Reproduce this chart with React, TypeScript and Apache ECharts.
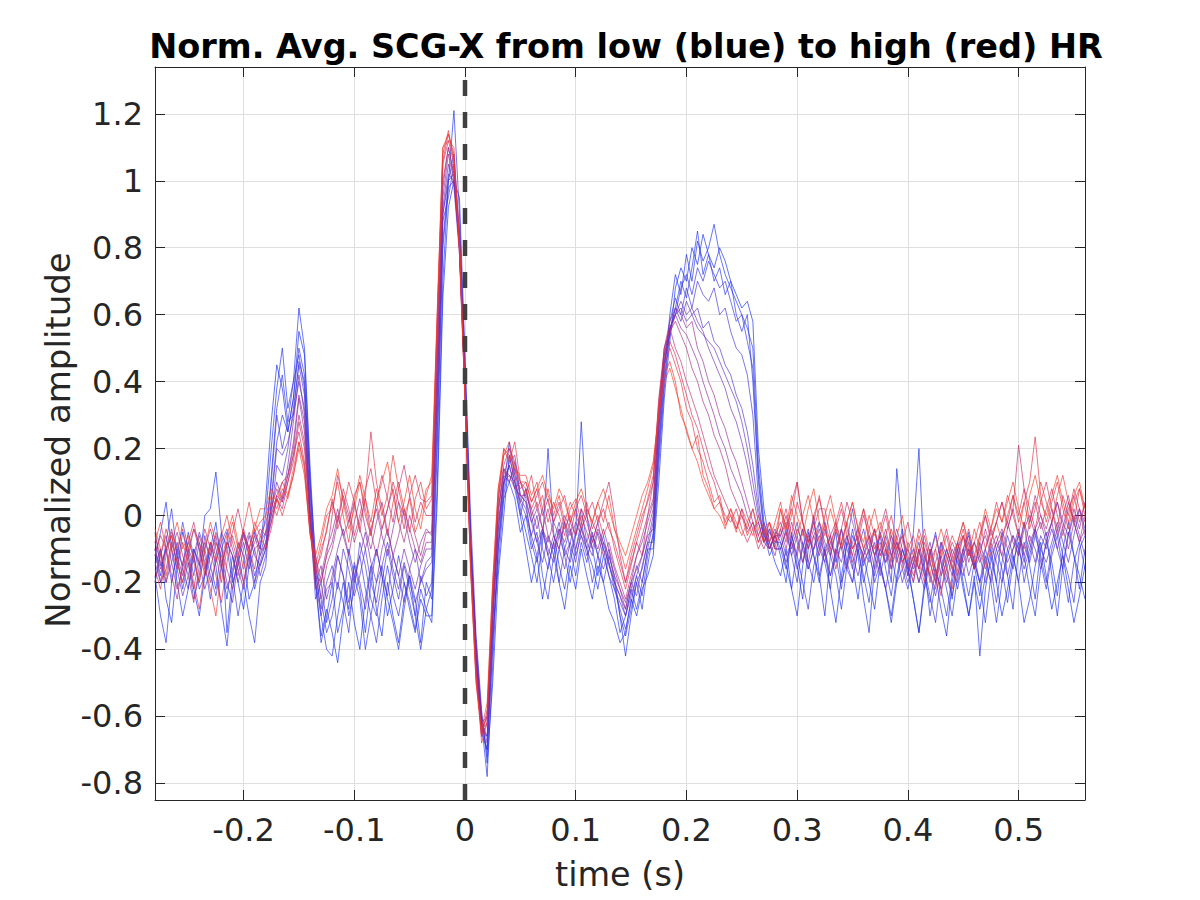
import React, { useEffect, useRef } from "react";
import * as echarts from "echarts";

const TITLE = "Norm. Avg. SCG-X from low (blue) to high (red) HR";
const X_LABEL = "time (s)";
const Y_LABEL = "Normalized amplitude";
const X_MIN = -0.28;
const X_MAX = 0.56;
const Y_MIN = -0.85;
const Y_MAX = 1.34;
const ZERO_TIME = 0;

// sample grid of every trace (seconds)
const T_START = -0.28;
const T_STEP = 0.005;

// traces ordered from low HR (blue) to high HR (red)
const traceColors = [
  "#1028f5", "#1a2cf0", "#2430ea", "#2e30e2", "#3c30d8", "#4c2ecc", "#5e2cbe", "#702aae",
  "#84289e", "#98288e", "#ac287c", "#c0286a", "#d22a56", "#e02e44", "#ea3432", "#f23c22",
];

const traceB0 = [
  -0.2, -0.1, -0.25, -0.32, -0.15, -0.05, -0.12, -0.22, -0.3, -0.18, -0.1, -0.02, -0.15, -0.25, -0.12, -0.2, -0.28, -0.15, -0.05, -0.1,
  0.05, 0.28, 0.45, 0.38, 0.25, 0.35, 0.55, 0.48, 0.12, -0.2, -0.36, -0.28,
  -0.35, -0.44, -0.3, -0.2, -0.32, -0.4, -0.25, -0.15, -0.28, -0.36, -0.2, -0.3, -0.38, -0.25, -0.18, -0.3, -0.4, -0.28,
  -0.32, 0.05, 0.65, 0.92, 1.0, 0.95, 0.48, 0.0, -0.36, -0.58, -0.74, -0.5, -0.18, 0.0, 0.18, 0.1, 0.0,
  -0.1, -0.2, -0.12, -0.25, -0.15, -0.08, -0.2, -0.28, -0.15, -0.22, -0.1, -0.18, -0.25, -0.15, -0.2, -0.28, -0.32, -0.38, -0.35, -0.25, -0.3, -0.22, -0.18,
  -0.12, 0.1, 0.35, 0.52, 0.68, 0.74, 0.7, 0.8, 0.75, 0.84, 0.78, 0.74, 0.8, 0.76, 0.7, 0.66, 0.62, 0.64, 0.58, 0.2, 0.02, -0.08, -0.14,
  -0.18, -0.1, -0.22, -0.3, -0.15, -0.05, -0.12, -0.2,
  -0.1, -0.22, -0.32, -0.18, -0.08, -0.15, -0.25, -0.12,
  -0.2, -0.28, -0.14, -0.22, -0.32, -0.2, -0.1, -0.15,
  -0.25, -0.35, -0.22, -0.1, -0.18, -0.28, -0.36, -0.2,
  -0.12, -0.22, -0.3, -0.2, -0.28, -0.18, -0.1, -0.2,
  -0.3, -0.22, -0.12, -0.2, -0.32, -0.25, -0.15, -0.08,
  -0.18, -0.28, -0.2, -0.12, -0.22, -0.32, -0.24, -0.15,
];

const traceB1 = [
  -0.12, -0.05, 0.04, -0.1, -0.2, -0.3, -0.22, -0.1, -0.15, 0.0, 0.02, 0.13, -0.05, -0.35, -0.18, -0.08, -0.12, -0.25, -0.2, -0.1,
  0.0, 0.2, 0.38, 0.5, 0.32, 0.4, 0.62, 0.5, 0.15, -0.15, -0.3, -0.4,
  -0.42, -0.3, -0.2, -0.28, -0.15, -0.22, -0.35, -0.2, -0.1, -0.18, -0.3, -0.22, -0.12, -0.2, -0.28, -0.35, -0.25, -0.3,
  -0.3, 0.1, 0.7, 1.0, 1.21, 0.9, 0.45, -0.05, -0.4, -0.62, -0.78, -0.45, -0.1, 0.08, 0.22, 0.12, 0.02,
  -0.05, -0.12, -0.2, -0.08, 0.2, -0.05, -0.15, -0.22, -0.12, -0.05, 0.28, 0.0, -0.1, -0.18, -0.08, -0.15, -0.2, -0.3, -0.42, -0.3, -0.2, -0.28, -0.15,
  -0.05, 0.2, 0.42, 0.6, 0.72, 0.66, 0.78, 0.7, 0.82, 0.76, 0.8, 0.87, 0.78, 0.72, 0.68, 0.64, 0.6, 0.56, 0.5, 0.15, -0.02, -0.1, -0.06,
  -0.12, -0.2, -0.05, -0.15, -0.25, -0.1, 0.0, -0.18,
  -0.3, -0.12, -0.05, -0.2, -0.14, -0.04, -0.12, -0.25,
  -0.35, -0.15, -0.05, -0.1, -0.2, 0.14, -0.05, -0.18,
  -0.05, 0.2, -0.15, -0.3, -0.2, -0.08, -0.15, -0.25,
  -0.1, -0.2, -0.3, -0.18, -0.42, -0.22, -0.12, -0.2,
  -0.05, -0.18, -0.28, -0.1, -0.02, -0.15, -0.25, -0.1,
  -0.05, -0.18, -0.3, -0.15, -0.05, -0.12, -0.22, -0.1,
];

const traceB2 = [
  -0.18, -0.3, -0.38, -0.2, -0.1, -0.15, -0.05, -0.12, -0.22, -0.18, -0.08, -0.15, -0.28, -0.39, -0.22, -0.12, -0.2, -0.3, -0.38, -0.2,
  -0.15, 0.05, 0.22, 0.3, 0.25, 0.35, 0.5, 0.42, 0.08, -0.2, -0.38, -0.3,
  -0.2, -0.35, -0.28, -0.1, -0.18, -0.25, -0.4, -0.3, -0.2, -0.15, -0.25, -0.32, -0.4, -0.28, -0.18, -0.25, -0.38, -0.2,
  -0.25, 0.2, 0.8, 0.98, 1.0, 0.85, 0.4, -0.1, -0.45, -0.65, -0.7, -0.35, -0.15, 0.05, 0.1, 0.05, -0.05,
  0.0, -0.1, -0.05, -0.18, -0.25, -0.12, -0.04, -0.12, -0.2, -0.1, -0.02, -0.1, -0.15, -0.22, -0.12, -0.18, -0.25, -0.35, -0.3, -0.22, -0.28, -0.2, -0.1,
  -0.1, 0.15, 0.38, 0.55, 0.62, 0.7, 0.65, 0.74, 0.85, 0.72, 0.78, 0.7, 0.74, 0.66, 0.7, 0.6, 0.55, 0.6, 0.4, 0.1, -0.05, -0.12, -0.08,
  -0.08, -0.15, -0.22, -0.1, -0.04, -0.14, -0.2, -0.1,
  -0.02, -0.12, -0.18, -0.28, -0.15, -0.06, -0.1, -0.2,
  -0.12, -0.04, -0.15, -0.22, -0.3, -0.18, -0.1, -0.16,
  -0.25, -0.35, -0.2, -0.12, -0.05, -0.14, -0.22, -0.3,
  -0.18, -0.1, -0.06, -0.15, -0.24, -0.12, -0.2, -0.32,
  -0.2, -0.1, -0.16, -0.05, -0.12, -0.22, -0.3, -0.16,
  -0.08, -0.14, -0.24, -0.1, -0.02, -0.12, -0.18, -0.25,
];

const traceB4 = [
  -0.1, -0.18, -0.08, 0.02, -0.12, -0.22, -0.14, -0.25, -0.18, -0.06, -0.15, -0.22, -0.1, -0.05, -0.18, -0.3, -0.2, -0.12, -0.22, -0.15,
  -0.1, 0.12, 0.32, 0.42, 0.28, 0.3, 0.46, 0.4, 0.1, -0.12, -0.25, -0.35,
  -0.3, -0.2, -0.26, -0.35, -0.18, -0.12, -0.22, -0.3, -0.38, -0.25, -0.15, -0.24, -0.3, -0.2, -0.26, -0.34, -0.22, -0.28,
  -0.22, 0.25, 0.82, 1.0, 1.08, 0.84, 0.42, -0.06, -0.4, -0.62, -0.7, -0.38, -0.1, 0.06, 0.16, 0.18, 0.06,
  0.04, -0.08, -0.14, -0.05, -0.12, -0.2, -0.1, -0.02, -0.1, -0.18, -0.08, -0.14, -0.05, -0.12, -0.2, -0.12, -0.18, -0.3, -0.36, -0.28, -0.2, -0.16, -0.08,
  -0.08, 0.18, 0.4, 0.56, 0.6, 0.68, 0.72, 0.66, 0.74, 0.7, 0.76, 0.72, 0.68, 0.7, 0.64, 0.58, 0.6, 0.52, 0.44, 0.12, -0.04, -0.1, -0.06,
  -0.1, -0.16, -0.06, -0.12, -0.2, -0.28, -0.15, -0.08,
  -0.14, -0.22, -0.1, -0.04, -0.14, -0.2, -0.1, -0.18,
  -0.26, -0.12, -0.06, -0.16, -0.24, -0.12, -0.04, -0.14,
  -0.2, -0.1, -0.18, -0.26, -0.16, -0.22, -0.3, -0.18,
  -0.08, -0.16, -0.24, -0.14, -0.2, -0.32, -0.18, -0.1,
  -0.16, -0.26, -0.14, -0.08, -0.2, -0.12, -0.04, -0.14,
  -0.22, -0.12, -0.06, -0.16, -0.26, -0.14, -0.08, -0.16,
];

const traceB3 = [
  -0.05, -0.15, -0.1, -0.2, -0.12, -0.02, -0.1, -0.18, -0.08, -0.14, -0.25, -0.12, -0.05, -0.1, -0.2, -0.15, -0.05, -0.1, -0.18, -0.12,
  -0.05, 0.1, 0.3, 0.2, 0.28, 0.4, 0.48, 0.38, 0.0, -0.25, -0.2, -0.32,
  -0.25, -0.12, -0.18, -0.3, -0.22, -0.08, -0.15, -0.25, -0.3, -0.2, -0.1, -0.18, -0.25, -0.15, -0.22, -0.3, -0.18, -0.24,
  -0.2, 0.3, 0.88, 0.95, 1.05, 0.8, 0.42, -0.08, -0.38, -0.6, -0.72, -0.4, -0.08, 0.1, 0.15, 0.08, 0.0,
  0.08, 0.0, -0.08, -0.14, -0.06, -0.12, -0.2, -0.1, -0.04, -0.12, -0.06, -0.1, -0.2, -0.12, -0.06, -0.14, -0.22, -0.28, -0.34, -0.26, -0.18, -0.24, -0.12,
  -0.06, 0.22, 0.45, 0.58, 0.65, 0.6, 0.68, 0.62, 0.7, 0.66, 0.64, 0.68, 0.6, 0.62, 0.55, 0.5, 0.48, 0.42, 0.3, 0.05, -0.08, -0.04, -0.1,
  -0.1, -0.04, -0.12, -0.2, -0.08, -0.16, -0.1, -0.02,
  -0.1, -0.18, -0.12, -0.22, -0.08, 0.02, -0.08, -0.15,
  -0.1, -0.2, -0.14, -0.06, -0.12, -0.2, -0.16, -0.22,
  -0.14, -0.08, -0.16, -0.24, -0.32, -0.18, -0.1, -0.15,
  -0.22, -0.12, -0.05, -0.14, -0.2, -0.1, -0.16, -0.26,
  -0.14, -0.06, -0.12, -0.2, -0.08, -0.14, -0.06, -0.12,
  -0.2, -0.1, -0.04, -0.12, -0.18, -0.26, -0.1, -0.06,
];

const traceBP1 = [
  -0.15, -0.1, -0.2, -0.14, -0.08, -0.16, -0.22, -0.12, -0.05, -0.1, -0.18, -0.24, -0.15, -0.08, -0.12, -0.2, -0.14, -0.06, -0.12, -0.15,
  -0.1, 0.0, 0.15, 0.12, 0.2, 0.32, 0.45, 0.36, 0.05, -0.18, -0.28, -0.2,
  -0.15, -0.22, -0.1, -0.16, -0.24, -0.18, -0.1, -0.2, -0.26, -0.15, -0.08, -0.16, -0.22, -0.14, -0.2, -0.26, -0.2, -0.14,
  -0.12, 0.35, 0.9, 1.0, 1.02, 0.82, 0.38, -0.1, -0.42, -0.64, -0.66, -0.3, -0.05, 0.12, 0.1, 0.14, 0.05,
  0.02, -0.06, 0.0, -0.1, -0.16, -0.08, -0.02, -0.1, -0.14, -0.06, 0.02, -0.08, -0.12, -0.05, -0.1, -0.18, -0.22, -0.26, -0.3, -0.22, -0.15, -0.2, -0.1,
  -0.02, 0.25, 0.45, 0.55, 0.62, 0.58, 0.64, 0.6, 0.62, 0.56, 0.58, 0.52, 0.5, 0.45, 0.42, 0.36, 0.32, 0.25, 0.15, 0.02, -0.06, -0.1, -0.05,
  -0.06, -0.12, -0.08, -0.16, -0.1, -0.04, -0.12, -0.18,
  -0.1, -0.06, -0.14, -0.08, -0.16, -0.2, -0.1, -0.04,
  -0.12, -0.18, -0.1, -0.14, -0.06, -0.12, -0.2, -0.14,
  -0.1, -0.16, -0.22, -0.14, -0.2, -0.12, -0.18, -0.24,
  -0.16, -0.1, -0.18, -0.12, -0.2, -0.14, -0.08, -0.14,
  -0.2, -0.12, -0.06, -0.1, -0.16, -0.1, -0.04, -0.1,
  -0.14, -0.08, -0.02, -0.08, -0.14, -0.06, 0.02, -0.04,
];

const traceBP3 = [
  -0.14, -0.2, -0.1, -0.06, -0.16, -0.24, -0.18, -0.1, -0.14, -0.22, -0.16, -0.08, -0.12, -0.2, -0.26, -0.14, -0.08, -0.16, -0.1, -0.18,
  -0.12, 0.04, 0.2, 0.18, 0.22, 0.3, 0.4, 0.32, 0.02, -0.2, -0.3, -0.22,
  -0.2, -0.12, -0.18, -0.26, -0.14, -0.2, -0.28, -0.16, -0.1, -0.18, -0.24, -0.12, -0.18, -0.26, -0.16, -0.1, -0.2, -0.16,
  -0.14, 0.38, 0.9, 1.02, 1.0, 0.8, 0.38, -0.1, -0.42, -0.62, -0.66, -0.32, -0.04, 0.1, 0.12, 0.1, 0.04,
  0.0, -0.06, -0.12, -0.04, -0.1, -0.14, -0.06, -0.12, -0.08, -0.14, -0.04, -0.1, -0.06, -0.12, -0.16, -0.1, -0.2, -0.24, -0.3, -0.24, -0.18, -0.12, -0.06,
  -0.04, 0.26, 0.46, 0.54, 0.6, 0.62, 0.58, 0.6, 0.56, 0.54, 0.52, 0.5, 0.46, 0.42, 0.38, 0.34, 0.28, 0.2, 0.1, 0.0, -0.06, -0.08, -0.04,
  -0.08, -0.14, -0.08, -0.02, -0.1, -0.16, -0.1, -0.06,
  -0.12, -0.18, -0.1, -0.14, -0.06, -0.12, -0.18, -0.1,
  -0.14, -0.08, -0.16, -0.22, -0.12, -0.08, -0.14, -0.2,
  -0.14, -0.2, -0.12, -0.18, -0.24, -0.16, -0.1, -0.16,
  -0.2, -0.12, -0.08, -0.16, -0.12, -0.2, -0.14, -0.08,
  -0.12, -0.18, -0.1, -0.06, -0.14, -0.08, -0.14, -0.06,
  -0.1, -0.04, -0.1, -0.16, -0.06, 0.0, -0.06, -0.12,
];

const traceBP2 = [
  -0.1, -0.2, -0.16, -0.08, -0.14, -0.2, -0.12, -0.04, -0.1, -0.18, -0.12, -0.06, -0.15, -0.22, -0.16, -0.1, -0.05, -0.12, -0.2, -0.14,
  -0.08, 0.02, 0.1, 0.05, 0.15, 0.28, 0.42, 0.3, 0.0, -0.2, -0.15, -0.25,
  -0.18, -0.1, -0.04, -0.12, -0.2, -0.12, -0.05, -0.14, -0.2, -0.1, -0.04, -0.12, -0.18, -0.1, -0.16, -0.22, -0.15, -0.1,
  -0.1, 0.4, 0.92, 1.05, 0.98, 0.78, 0.36, -0.12, -0.44, -0.6, -0.68, -0.32, -0.02, 0.1, 0.15, 0.08, 0.1,
  0.05, -0.02, -0.08, -0.04, -0.12, -0.06, -0.1, -0.16, -0.08, -0.02, -0.06, -0.12, -0.08, -0.02, -0.1, -0.14, -0.2, -0.24, -0.28, -0.2, -0.24, -0.15, -0.08,
  0.0, 0.28, 0.48, 0.56, 0.6, 0.64, 0.6, 0.62, 0.58, 0.55, 0.5, 0.46, 0.42, 0.38, 0.32, 0.28, 0.22, 0.15, 0.06, -0.02, -0.08, -0.04, -0.1,
  -0.1, -0.05, -0.12, -0.06, -0.14, -0.08, -0.02, -0.1,
  -0.14, -0.08, -0.12, -0.04, -0.1, -0.16, -0.08, -0.12,
  -0.06, -0.12, -0.18, -0.1, -0.16, -0.08, -0.12, -0.18,
  -0.12, -0.2, -0.14, -0.08, -0.16, -0.22, -0.16, -0.1,
  -0.14, -0.18, -0.1, -0.16, -0.08, -0.14, -0.2, -0.12,
  -0.08, -0.14, -0.1, -0.04, -0.12, -0.06, -0.1, -0.16,
  -0.08, -0.02, -0.1, -0.04, 0.04, -0.02, -0.08, -0.04,
];

const traceP3 = [
  -0.1, -0.16, -0.1, -0.04, -0.12, -0.18, -0.1, -0.14, -0.06, -0.12, -0.2, -0.14, -0.08, -0.04, -0.1, -0.16, -0.22, -0.12, -0.06, -0.12,
  -0.08, -0.02, 0.06, 0.04, 0.12, 0.22, 0.36, 0.28, 0.0, -0.18, -0.2, -0.12,
  -0.08, 0.0, -0.06, -0.02, 0.04, -0.04, -0.1, -0.04, 0.02, -0.06, -0.12, -0.04, 0.04, 0.0, -0.08, -0.14, -0.08, -0.04,
  -0.06, 0.48, 0.98, 1.1, 1.02, 0.8, 0.38, -0.12, -0.44, -0.64, -0.62, -0.28, 0.02, 0.14, 0.12, 0.08, 0.06,
  0.04, -0.02, 0.02, -0.04, -0.08, -0.02, -0.06, 0.0, -0.04, -0.1, -0.04, 0.0, -0.06, -0.1, -0.04, -0.1, -0.16, -0.22, -0.26, -0.2, -0.12, -0.08, -0.02,
  0.04, 0.3, 0.48, 0.56, 0.6, 0.56, 0.54, 0.5, 0.46, 0.4, 0.35, 0.3, 0.24, 0.2, 0.14, 0.1, 0.06, 0.0, -0.04, -0.02, -0.08, -0.1, -0.06,
  -0.06, -0.02, -0.1, -0.04, -0.08, -0.14, -0.06, -0.02,
  -0.08, -0.12, -0.04, -0.1, -0.16, -0.08, -0.04, -0.1,
  -0.06, -0.12, -0.08, -0.14, -0.1, -0.04, -0.1, -0.16,
  -0.12, -0.16, -0.1, -0.2, -0.14, -0.08, -0.12, -0.18,
  -0.1, -0.06, -0.12, -0.08, -0.14, -0.1, -0.04, -0.1,
  -0.06, -0.02, -0.08, -0.12, -0.04, 0.0, -0.06, -0.02,
  -0.08, -0.02, 0.04, -0.02, -0.06, 0.02, -0.04, 0.04,
];

const traceP1 = [
  -0.2, -0.12, -0.06, -0.14, -0.22, -0.16, -0.08, -0.12, -0.2, -0.1, -0.04, -0.1, -0.16, -0.08, -0.12, -0.18, -0.1, -0.05, -0.1, -0.08,
  -0.05, 0.0, 0.06, 0.1, 0.12, 0.2, 0.35, 0.25, -0.02, -0.22, -0.18, -0.1,
  -0.05, 0.02, -0.06, -0.12, -0.02, 0.05, -0.04, -0.1, -0.02, 0.04, -0.05, -0.12, -0.06, 0.02, -0.04, -0.1, -0.14, -0.08,
  -0.08, 0.45, 0.95, 1.08, 1.0, 0.8, 0.4, -0.1, -0.4, -0.62, -0.6, -0.28, 0.0, 0.14, 0.1, 0.16, 0.06,
  0.06, 0.02, -0.04, 0.02, -0.06, -0.1, -0.04, -0.08, -0.02, -0.06, 0.0, -0.05, -0.1, -0.04, -0.08, -0.12, -0.18, -0.22, -0.28, -0.2, -0.16, -0.12, -0.05,
  0.02, 0.3, 0.5, 0.58, 0.62, 0.6, 0.56, 0.58, 0.5, 0.46, 0.4, 0.36, 0.3, 0.26, 0.2, 0.16, 0.1, 0.04, -0.02, -0.06, -0.02, -0.08, -0.12,
  -0.04, -0.1, -0.02, -0.08, -0.14, -0.06, -0.1, -0.04,
  -0.12, -0.06, -0.02, -0.1, -0.06, -0.14, -0.08, -0.12,
  -0.08, -0.16, -0.1, -0.04, -0.12, -0.06, -0.14, -0.1,
  -0.16, -0.1, -0.18, -0.12, -0.06, -0.14, -0.2, -0.12,
  -0.08, -0.14, -0.1, -0.16, -0.1, -0.06, -0.12, -0.08,
  -0.04, -0.1, -0.06, -0.12, -0.02, -0.08, -0.04, 0.0,
  -0.06, -0.02, 0.04, -0.04, -0.1, -0.02, 0.02, -0.06,
];

const traceP2 = [
  -0.08, -0.14, -0.2, -0.1, -0.05, -0.12, -0.18, -0.26, -0.15, -0.08, -0.12, -0.05, -0.1, -0.16, -0.22, -0.12, -0.06, -0.1, -0.04, -0.1,
  -0.1, -0.02, 0.05, 0.02, 0.1, 0.18, 0.3, 0.22, 0.0, -0.15, -0.25, -0.15,
  -0.1, -0.02, 0.06, 0.0, -0.08, -0.02, 0.05, -0.05, -0.12, -0.04, 0.02, 0.08, -0.02, -0.08, 0.0, -0.06, -0.12, -0.05,
  -0.05, 0.5, 1.0, 1.1, 1.02, 0.82, 0.38, -0.12, -0.45, -0.66, -0.62, -0.3, 0.02, 0.12, 0.18, 0.1, 0.04,
  0.08, 0.0, 0.04, -0.04, 0.02, -0.06, -0.1, -0.02, -0.06, 0.02, -0.04, -0.08, -0.02, -0.06, -0.12, -0.08, -0.15, -0.2, -0.25, -0.18, -0.12, -0.06, 0.0,
  0.05, 0.32, 0.5, 0.55, 0.58, 0.54, 0.5, 0.44, 0.4, 0.34, 0.3, 0.24, 0.2, 0.15, 0.08, 0.04, 0.0, -0.04, 0.02, -0.06, -0.1, -0.05, -0.08,
  -0.06, 0.0, -0.08, -0.12, -0.04, -0.1, -0.06, -0.12,
  -0.04, -0.1, -0.16, -0.08, -0.02, -0.1, -0.06, -0.14,
  -0.1, -0.04, -0.12, -0.08, -0.16, -0.1, -0.06, -0.12,
  -0.18, -0.12, -0.06, -0.14, -0.1, -0.18, -0.14, -0.08,
  -0.12, -0.06, -0.14, -0.08, -0.12, -0.04, -0.1, -0.06,
  -0.12, -0.04, 0.02, -0.06, -0.1, -0.02, 0.06, 0.0,
  -0.04, 0.02, -0.06, 0.0, 0.06, -0.02, -0.08, 0.0,
];

const traceR1 = [
  -0.12, -0.06, -0.1, -0.18, -0.25, -0.14, -0.08, -0.02, -0.1, -0.16, -0.08, -0.12, -0.2, -0.1, -0.05, 0.02, -0.06, -0.12, -0.08, -0.04,
  -0.06, 0.02, 0.08, 0.04, 0.1, 0.16, 0.28, 0.2, -0.02, -0.12, -0.2, -0.12,
  0.0, 0.12, 0.05, -0.02, 0.06, 0.1, 0.0, -0.06, 0.04, 0.12, 0.05, -0.02, 0.08, 0.15, 0.06, -0.02, 0.04, 0.0,
  0.0, 0.55, 1.05, 1.12, 1.05, 0.8, 0.36, -0.15, -0.48, -0.65, -0.6, -0.25, 0.05, 0.15, 0.2, 0.12, 0.08,
  0.1, 0.04, 0.08, 0.0, 0.05, -0.02, 0.04, -0.04, 0.0, -0.06, 0.02, -0.02, -0.08, -0.02, 0.04, 0.1, 0.0, -0.12, -0.2, -0.14, -0.08, -0.12, 0.0,
  0.1, 0.35, 0.5, 0.56, 0.5, 0.46, 0.4, 0.35, 0.3, 0.24, 0.18, 0.12, 0.08, 0.04, 0.0, -0.04, 0.02, -0.05, -0.02, -0.08, -0.04, -0.1, -0.06,
  -0.02, -0.08, 0.04, 0.1, -0.02, -0.1, -0.04, 0.02,
  0.02, -0.06, -0.12, -0.04, 0.04, -0.02, -0.08, 0.0,
  -0.06, -0.12, -0.04, 0.02, -0.06, -0.1, -0.16, -0.08,
  -0.12, -0.04, -0.1, -0.18, -0.22, -0.12, -0.06, -0.14,
  -0.08, -0.02, -0.1, -0.16, -0.08, 0.0, -0.06, -0.02,
  0.04, -0.04, 0.02, 0.21, 0.08, -0.02, 0.04, -0.04,
  0.02, 0.08, 0.0, -0.06, 0.02, 0.06, -0.02, 0.04,
];

const traceR4 = [
  -0.06, -0.12, -0.04, -0.1, -0.16, -0.08, -0.14, -0.22, -0.12, -0.04, -0.1, -0.18, -0.26, -0.14, -0.06, -0.12, -0.04, -0.1, -0.16, -0.06,
  -0.02, 0.04, 0.0, 0.06, 0.12, 0.18, 0.25, 0.16, -0.04, -0.16, -0.12, -0.04,
  0.04, -0.02, 0.08, 0.02, -0.06, 0.0, 0.08, 0.14, 0.04, -0.04, 0.02, 0.1, 0.04, -0.04, 0.06, 0.12, 0.05, 0.04,
  0.06, 0.58, 1.06, 1.14, 1.08, 0.82, 0.38, -0.14, -0.48, -0.64, -0.6, -0.24, 0.06, 0.18, 0.2, 0.16, 0.1,
  0.08, 0.02, 0.06, 0.1, 0.04, -0.02, 0.02, 0.06, -0.02, 0.02, 0.06, 0.0, 0.04, -0.02, 0.02, -0.04, -0.08, -0.14, -0.2, -0.12, -0.06, 0.0, 0.04,
  0.1, 0.34, 0.48, 0.52, 0.48, 0.42, 0.36, 0.3, 0.26, 0.2, 0.14, 0.1, 0.04, 0.0, -0.02, 0.02, -0.04, -0.08, -0.04, -0.1, -0.06, -0.02, -0.08,
  -0.04, 0.02, -0.06, 0.04, -0.02, -0.08, 0.0, 0.05,
  -0.02, -0.08, -0.04, 0.02, -0.06, -0.12, -0.04, 0.02,
  -0.04, -0.1, -0.06, 0.0, -0.08, -0.14, -0.08, -0.02,
  -0.1, -0.16, -0.08, -0.14, -0.2, -0.1, -0.04, -0.12,
  -0.18, -0.1, -0.04, -0.12, -0.06, 0.0, -0.08, -0.02,
  0.04, -0.02, 0.06, 0.0, 0.08, 0.02, -0.04, 0.04,
  0.1, 0.02, -0.04, 0.06, 0.0, 0.08, 0.02, -0.02,
];

const traceR2 = [
  -0.16, -0.22, -0.12, -0.05, -0.1, -0.04, -0.12, -0.2, -0.28, -0.16, -0.08, -0.14, -0.06, 0.0, -0.08, -0.14, -0.2, -0.1, -0.02, -0.06,
  -0.1, -0.04, 0.05, 0.0, 0.06, 0.12, 0.22, 0.15, -0.05, -0.18, -0.1, -0.05,
  0.05, -0.04, 0.02, 0.1, 0.04, -0.05, 0.06, 0.25, 0.1, 0.02, -0.06, 0.04, 0.1, 0.02, -0.05, 0.05, 0.1, 0.02,
  0.05, 0.6, 1.08, 1.15, 1.06, 0.85, 0.4, -0.12, -0.46, -0.68, -0.62, -0.22, 0.04, 0.2, 0.16, 0.22, 0.1,
  0.06, 0.12, 0.02, 0.06, -0.02, 0.04, 0.0, -0.06, 0.02, 0.05, -0.02, 0.04, -0.04, 0.0, -0.06, -0.02, -0.1, -0.16, -0.22, -0.15, -0.08, -0.02, 0.05,
  0.12, 0.3, 0.45, 0.5, 0.45, 0.4, 0.32, 0.28, 0.2, 0.16, 0.1, 0.04, 0.06, -0.02, 0.02, -0.04, 0.0, -0.06, -0.02, -0.08, -0.04, -0.02, -0.1,
  0.02, -0.06, 0.0, 0.1, -0.02, -0.08, -0.02, 0.06,
  -0.04, -0.1, -0.02, 0.04, -0.04, -0.1, -0.06, 0.02,
  -0.08, -0.04, -0.12, -0.06, 0.0, -0.08, -0.14, -0.1,
  -0.06, -0.14, -0.2, -0.1, -0.16, -0.24, -0.12, -0.06,
  -0.1, -0.04, -0.12, -0.08, -0.02, -0.1, -0.04, 0.04,
  -0.02, 0.06, 0.0, -0.06, 0.04, 0.1, 0.235, 0.06,
  -0.02, 0.04, 0.1, 0.02, -0.04, 0.04, 0.08, 0.0,
];

const traceR3 = [
  -0.08, -0.02, -0.1, -0.06, -0.14, -0.2, -0.1, -0.04, -0.08, -0.15, -0.22, -0.3, -0.16, -0.08, -0.02, -0.1, -0.04, 0.04, -0.05, -0.02,
  0.0, 0.06, 0.02, 0.08, 0.05, 0.12, 0.2, 0.12, -0.05, -0.15, -0.08, 0.0,
  0.02, 0.1, 0.0, -0.08, 0.04, 0.12, 0.05, -0.02, 0.08, 0.0, 0.06, 0.18, 0.08, 0.0, 0.05, -0.05, 0.0, 0.08,
  0.1, 0.6, 1.1, 1.12, 1.1, 0.78, 0.35, -0.15, -0.5, -0.66, -0.58, -0.2, 0.08, 0.18, 0.22, 0.14, 0.12,
  0.12, 0.06, 0.1, 0.02, 0.08, 0.0, 0.06, -0.02, 0.04, 0.0, -0.04, 0.02, -0.02, 0.04, -0.02, 0.06, -0.04, -0.1, -0.16, -0.1, -0.04, 0.02, 0.08,
  0.15, 0.32, 0.42, 0.46, 0.4, 0.3, 0.26, 0.2, 0.24, 0.12, 0.08, 0.02, 0.04, -0.03, 0.0, -0.05, 0.02, -0.02, -0.06, 0.0, -0.04, -0.08, -0.02,
  0.04, -0.04, 0.02, -0.06, 0.0, 0.06, -0.02, -0.08,
  0.0, 0.06, -0.02, -0.08, -0.02, 0.04, -0.04, -0.1,
  -0.04, 0.02, -0.06, -0.12, -0.04, -0.1, -0.06, -0.14,
  -0.2, -0.1, -0.04, -0.12, -0.18, -0.1, -0.16, -0.22,
  -0.14, -0.06, -0.12, -0.04, -0.1, -0.16, -0.08, -0.02,
  -0.08, 0.0, 0.06, -0.02, 0.04, -0.04, 0.02, 0.1,
  0.04, -0.02, 0.06, 0.12, 0.04, -0.02, 0.08, 0.02,
];

const traceR5 = [
  -0.04, -0.1, -0.18, -0.08, -0.02, -0.1, -0.06, -0.14, -0.2, -0.1, -0.02, -0.08, -0.14, -0.06, 0.0, -0.08, -0.16, -0.1, -0.04, 0.02,
  0.02, 0.08, 0.04, 0.1, 0.06, 0.14, 0.22, 0.14, -0.06, -0.12, -0.06, 0.02,
  0.06, 0.14, 0.04, -0.04, 0.02, 0.1, 0.02, -0.06, 0.04, 0.1, 0.16, 0.06, -0.02, 0.04, 0.12, 0.02, -0.04, 0.06,
  0.12, 0.62, 1.1, 1.14, 1.06, 0.8, 0.34, -0.16, -0.5, -0.64, -0.56, -0.2, 0.08, 0.2, 0.18, 0.14, 0.1,
  0.1, 0.04, 0.08, 0.12, 0.06, 0.02, 0.08, 0.04, -0.02, 0.04, 0.08, 0.02, -0.02, 0.04, 0.08, 0.02, -0.04, -0.08, -0.12, -0.06, 0.0, 0.06, 0.1,
  0.16, 0.3, 0.4, 0.44, 0.38, 0.32, 0.25, 0.2, 0.16, 0.1, 0.06, 0.02, 0.0, -0.04, 0.02, -0.02, -0.06, -0.02, 0.02, -0.04, -0.08, -0.02, -0.06,
  0.02, -0.04, 0.06, 0.0, -0.06, 0.02, 0.08, -0.02,
  -0.06, 0.02, -0.04, -0.1, -0.02, 0.04, -0.04, -0.08,
  0.0, -0.06, -0.02, -0.08, -0.14, -0.06, 0.0, -0.1,
  -0.14, -0.06, -0.12, -0.18, -0.1, -0.04, -0.1, -0.16,
  -0.08, -0.02, -0.08, -0.14, -0.06, 0.02, -0.04, 0.02,
  -0.02, 0.04, 0.1, 0.02, -0.04, 0.06, 0.12, 0.04,
  0.0, 0.06, 0.12, 0.04, -0.02, 0.06, 0.1, 0.02,
];

const traces = [
  traceB0, traceB1, traceB2, traceB4, traceB3, traceBP1, traceBP3, traceBP2,
  traceP3, traceP1, traceP2, traceR1, traceR4, traceR2, traceR3, traceR5,
];

const FONT = "DejaVu Sans";
const INK = "#262626";

function tickFormatter(v: number): string {
  const r = Math.round(v * 10) / 10;
  if (Math.abs(v - r) > 1e-6) return "";
  return String(r);
}

export default function App() {
  const ref = useRef<HTMLDivElement>(null);

  useEffect(() => {
    if (!ref.current) return;
    const chart = echarts.init(ref.current, undefined, { renderer: "svg" });

    const lineSeries = traces.map((vals, k) => ({
      type: "line",
      name: "trace " + (k + 1),
      xAxisIndex: 0,
      yAxisIndex: 0,
      data: vals.map((v, i) => [T_START + i * T_STEP, v]),
      showSymbol: false,
      symbol: "none",
      silent: true,
      z: 2,
      lineStyle: { color: traceColors[k], width: 1, opacity: 0.65 },
    }));

    const zeroSeries = {
      type: "line",
      name: "t0",
      xAxisIndex: 0,
      yAxisIndex: 0,
      data: [
        [ZERO_TIME, Y_MIN],
        [ZERO_TIME, Y_MAX],
      ],
      showSymbol: false,
      symbol: "none",
      silent: true,
      z: 5,
      lineStyle: { color: "#404040", width: 4.5, type: [16, 16] },
    };

    const baseX = {
      type: "value",
      min: X_MIN,
      max: X_MAX,
      splitNumber: 8,
      axisLine: { show: true, onZero: false, lineStyle: { color: INK, width: 1 } },
      axisTick: { show: true, inside: true, length: 10, lineStyle: { color: INK, width: 1 } },
    };
    const baseY = {
      type: "value",
      min: Y_MIN,
      max: Y_MAX,
      splitNumber: 11,
      axisLine: { show: true, onZero: false, lineStyle: { color: INK, width: 1 } },
      axisTick: { show: true, inside: true, length: 10, lineStyle: { color: INK, width: 1 } },
    };

    chart.setOption({
      animation: false,
      backgroundColor: "#ffffff",
      title: {
        text: TITLE,
        left: 621,
        top: 24,
        textAlign: "center",
        textStyle: { fontFamily: FONT, fontSize: 33.5, fontWeight: "bold", color: "#000000" },
      },
      grid: { left: 155, right: 115, top: 67, bottom: 100 },
      xAxis: [
        {
          ...baseX,
          position: "bottom",
          axisLabel: {
            show: true,
            formatter: tickFormatter,
            fontFamily: FONT,
            fontSize: 32,
            color: INK,
            margin: 14,
            showMinLabel: false,
            showMaxLabel: false,
          },
          splitLine: { show: true, lineStyle: { color: "#dfdfdf", width: 1 } },
        },
        {
          ...baseX,
          position: "top",
          axisLabel: { show: false },
          splitLine: { show: false },
        },
      ],
      yAxis: [
        {
          ...baseY,
          position: "left",
          axisLabel: {
            show: true,
            formatter: tickFormatter,
            fontFamily: FONT,
            fontSize: 32,
            color: INK,
            margin: 12,
            showMinLabel: false,
            showMaxLabel: false,
          },
          splitLine: { show: true, lineStyle: { color: "#dfdfdf", width: 1 } },
        },
        {
          ...baseY,
          position: "right",
          axisLabel: { show: false },
          splitLine: { show: false },
        },
      ],
      graphic: [
        {
          type: "text",
          x: 620,
          y: 874,
          style: {
            text: X_LABEL,
            fontFamily: FONT,
            fontSize: 33.5,
            fill: INK,
            textAlign: "center",
            textVerticalAlign: "middle",
          },
        },
        {
          type: "text",
          x: 58,
          y: 440,
          rotation: Math.PI / 2,
          style: {
            text: Y_LABEL,
            fontFamily: FONT,
            fontSize: 34,
            fill: INK,
            textAlign: "center",
            textVerticalAlign: "middle",
          },
        },
      ],
      series: [...lineSeries, zeroSeries],
    });

    return () => chart.dispose();
  }, []);

  return (
    <div
      ref={ref}
      style={{ position: "absolute", left: 0, top: 0, width: 1200, height: 900, background: "#fff" }}
    />
  );
}
